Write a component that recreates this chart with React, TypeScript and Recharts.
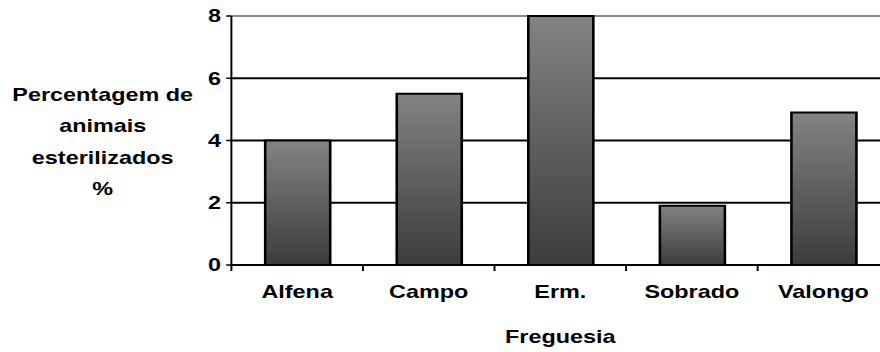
import { BarChart, Bar, XAxis, YAxis, CartesianGrid, ReferenceLine } from 'recharts';

const freguesias = ['Alfena', 'Campo', 'Erm.', 'Sobrado', 'Valongo'];
const esterilizados = [4.0, 5.5, 8.0, 1.9, 4.9];
const yTicks = [0, 2, 4, 6, 8];
const yTitle = ['Percentagem de', 'animais', 'esterilizados', '%'];

const data = freguesias.map((nome, i) => ({ nome, valor: esterilizados[i] }));

// chart is laid out narrow and stretched sideways, like the old spreadsheet export
const STRETCH = 1.3;
const CHART_W = 684;
const CHART_H = 352;
const AXIS_W = 178;
const X_AXIS_H = 87;
const MARGIN = { top: 16, right: 0, bottom: 0, left: 0 };
const FONT = '"Liberation Sans", Arial, sans-serif';
const bandW = (CHART_W - AXIS_W) / freguesias.length;

function FreguesiaTick({ x, y, payload }: any) {
    const edge = x - bandW / 2;
    return (
        <g>
            <line x1={edge} x2={edge} y1={y} y2={y + 6} stroke="#000" strokeWidth={1.5} />
            <text x={x} y={y + 33} textAnchor="middle" fontFamily={FONT} fontSize={18} fontWeight="bold" fill="#000">
                {payload.value}
            </text>
        </g>
    );
}

function GridLine(props: any) {
    // the top edge gets its own grey line below
    if (props.y1 <= MARGIN.top + 1) return <g />;
    return <line x1={props.x1} x2={props.x2 + 20} y1={props.y1} y2={props.y2} stroke="#000" strokeWidth={2} />;
}

export default function App() {
    return (
        <div style={{ position: 'absolute', left: 0, top: 0, width: 880, height: 352, overflow: 'hidden', background: '#fff' }}>
            <div style={{ width: CHART_W, height: CHART_H, transform: `scaleX(${STRETCH})`, transformOrigin: '0 0' }}>
                <BarChart width={CHART_W} height={CHART_H} data={data} margin={MARGIN} barSize={50}>
                    <defs>
                        <linearGradient id="barFill" x1="0" y1="0" x2="0" y2="1">
                            <stop offset="0%" stopColor="#838383" />
                            <stop offset="100%" stopColor="#3c3c3c" />
                        </linearGradient>
                    </defs>
                    <CartesianGrid vertical={false} horizontal={GridLine} />
                    {/* keep the grey top border underneath the bars */}
                    <ReferenceLine y={8} stroke="#8a8a8a" strokeWidth={2} {...({ zIndex: -60 } as any)} />
                    <XAxis
                        dataKey="nome"
                        interval={0}
                        height={X_AXIS_H}
                        tickSize={0}
                        tickMargin={0}
                        tickLine={false}
                        axisLine={{ stroke: '#000', strokeWidth: 2 }}
                        tick={<FreguesiaTick />}
                        label={{
                            content: ({ viewBox }: any) => (
                                <text
                                    x={viewBox.x + viewBox.width / 2}
                                    y={343}
                                    textAnchor="middle"
                                    fontFamily={FONT}
                                    fontSize={18}
                                    fontWeight="bold"
                                    fill="#000"
                                >
                                    Freguesia
                                </text>
                            ),
                        }}
                    />
                    <YAxis
                        width={AXIS_W}
                        domain={[0, 8]}
                        ticks={yTicks}
                        tickSize={4}
                        tickMargin={4}
                        tickLine={{ stroke: '#000', strokeWidth: 1.5 }}
                        axisLine={{ stroke: '#000', strokeWidth: 1.5 }}
                        tick={{ fontFamily: FONT, fontSize: 18, fontWeight: 'bold', fill: '#000' }}
                        label={{
                            content: () => (
                                <text textAnchor="middle" fontFamily={FONT} fontSize={18} fontWeight="bold" fill="#000">
                                    {yTitle.map((t, i) => (
                                        <tspan key={t} x={79} y={101 + i * 31.5}>
                                            {t}
                                        </tspan>
                                    ))}
                                </text>
                            ),
                        }}
                    />
                    <Bar dataKey="valor" fill="url(#barFill)" stroke="#000" strokeWidth={2} isAnimationActive={false} />
                </BarChart>
            </div>
        </div>
    );
}
